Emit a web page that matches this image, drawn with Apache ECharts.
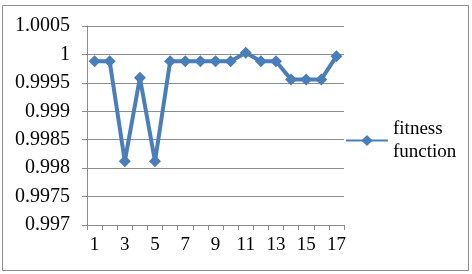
<!DOCTYPE html>
<html><head><meta charset="utf-8">
<script src="https://cdn.jsdelivr.net/npm/echarts@6/dist/echarts.min.js"></script>
<style>html,body{margin:0;padding:0;background:#fff}#c{width:472px;height:274px}</style>
</head><body><div id="c"></div>
<script>
var categories = ['1','2','3','4','5','6','7','8','9','10','11','12','13','14','15','16','17'];
var fitnessValues = [0.99988, 0.99988, 0.99812, 0.99959, 0.99812, 0.99988, 0.99988, 0.99988, 0.99988, 0.99988, 1.00003, 0.99988, 0.99988, 0.99956, 0.99956, 0.99956, 0.99997];
var seriesName = 'fitness function';
var yMin = 0.997, yMax = 1.0005, yStep = 0.0005;

var chart = echarts.init(document.getElementById('c'), null, {renderer: 'canvas'});
var font = '"Liberation Serif", "Times New Roman", serif';
var grey = '#8c8c8c';
chart.setOption({
  backgroundColor: '#fff',
  animation: false,
  graphic: [{
    type: 'rect', shape: {x: 2.5, y: 5.5, width: 466, height: 265},
    style: {fill: 'none', stroke: grey, lineWidth: 1}, silent: true
  }],
  grid: {left: 87, right: 128, top: 26, bottom: 49},
  legend: {
    data: [seriesName], left: 340, top: 101, itemWidth: 42, itemHeight: 14, itemGap: 3,
    formatter: function () { return 'fitness\nfunction'; },
    textStyle: {fontFamily: font, fontSize: 19, color: '#000', lineHeight: 23, padding: [23, 0, 0, 0]}
  },
  xAxis: {
    type: 'category', data: categories, boundaryGap: true,
    axisLine: {lineStyle: {color: grey, width: 1}},
    axisTick: {show: true, interval: 0, length: 5, lineStyle: {color: grey}},
    axisLabel: {interval: 1, fontFamily: font, fontSize: 19, color: '#000', margin: 11}
  },
  yAxis: {
    type: 'value', min: yMin, max: yMax, interval: yStep,
    axisLine: {show: true, lineStyle: {color: grey, width: 1}},
    axisTick: {show: true, length: 5, lineStyle: {color: grey}},
    splitLine: {lineStyle: {color: grey, width: 1}},
    axisLabel: {fontFamily: font, fontSize: 20, color: '#000', margin: 17,
      formatter: function (v) { return String(+v.toFixed(4)); }}
  },
  series: [{
    name: seriesName, type: 'line', data: fitnessValues,
    symbol: 'diamond', symbolSize: 12, showAllSymbol: true,
    lineStyle: {color: '#4a7ebb', width: 4},
    itemStyle: {color: '#4a7ebb'}
  }]
});
</script></body></html>
